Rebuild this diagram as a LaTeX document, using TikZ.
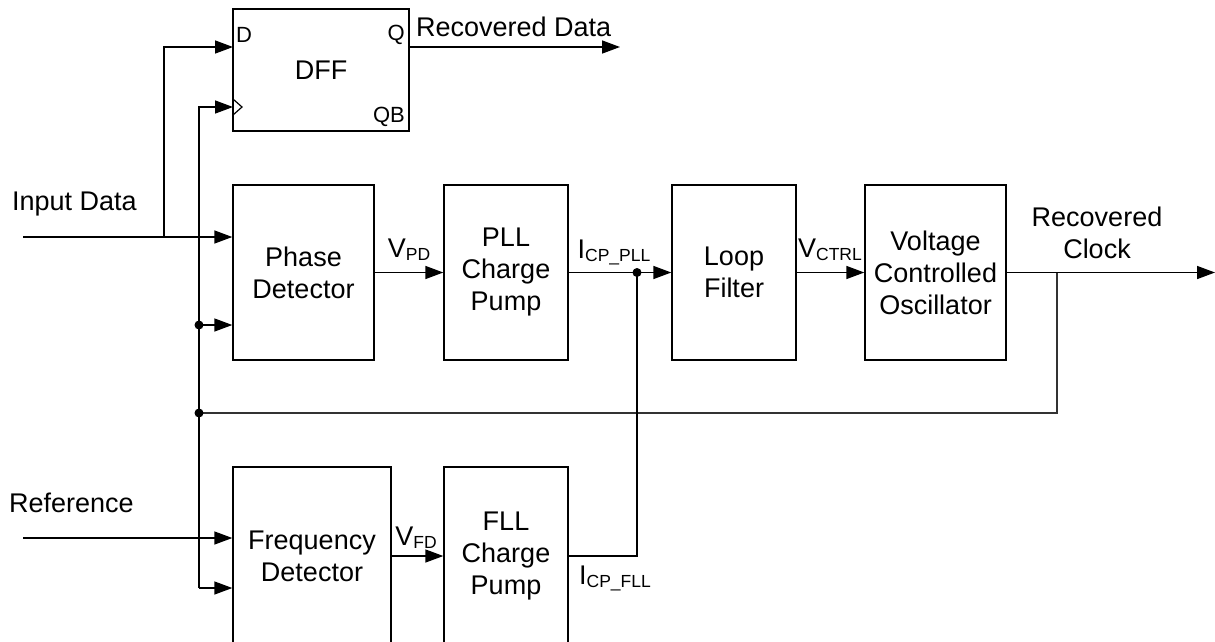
\documentclass[tikz,border=0pt]{standalone}
\usepackage{fontspec}
\setmainfont{Liberation Sans}
\usetikzlibrary{arrows.meta}
\newcommand{\sbs}[1]{\raisebox{-3pt}{\fontsize{17.5}{17.5}\selectfont #1}}
\begin{document}
\begin{tikzpicture}[x=1pt,y=-1pt,
  blk/.style={draw, line width=1.4pt, align=center, inner sep=0pt, font=\fontsize{27}{32}\selectfont},
  wire/.style={line width=1.5pt},
  arr/.style={wire, -{Triangle[length=18pt,width=13pt]}},
  lbl/.style={inner sep=0pt, font=\fontsize{27}{32}\selectfont, align=center},
  pin/.style={inner sep=0pt, font=\fontsize{22}{24}\selectfont},
  dot/.style={circle, fill, inner sep=0pt, minimum size=9pt}
]
\clip (0,0) rectangle (1215,641);
\fill[white] (0,0) rectangle (1215,641);

% blocks
\node[blk, minimum width=176pt, minimum height=122pt] (DFF) at (321,70) {DFF};
\node[blk, minimum width=141pt, minimum height=175pt] (PD) at (303.5,272.5) {Phase\\Detector};
\node[blk, minimum width=124pt, minimum height=175pt] (PLL) at (506,272.5) {PLL\\Charge\\Pump};
\node[blk, minimum width=124pt, minimum height=175pt] (LF) at (734,272.5) {Loop\\Filter};
\node[blk, minimum width=141pt, minimum height=175pt] (VCO) at (935.5,272.5) {Voltage\\Controlled\\Oscillator};
\node[blk, minimum width=158pt, minimum height=178pt] (FD) at (312,556) {Frequency\\Detector};
\node[blk, minimum width=124pt, minimum height=178pt] (FLL) at (506,556) {FLL\\Charge\\Pump};

% DFF pins
\node[pin, anchor=west] (pD) at (236,35) {D};
\node[pin, anchor=east] (pQ) at (405,35) {Q};
\node[pin, anchor=east] (pQB) at (405,117) {QB};
\coordinate (dffD) at (233,47);
\coordinate (dffC) at (233,107);
\coordinate (dffQ) at (409,47);
\draw[wire, line width=1.2pt] (dffC) ++(0,-8) -- ++(9,8) -- ++(-9,8);

% coordinates
\coordinate (inD) at (23,237);
\coordinate (jD) at (164,237);
\coordinate (inR) at (23,538);
\coordinate (kb) at (199,588);
\coordinate (k1) at (199,325);
\coordinate (k2) at (199,413);
\coordinate (fb) at (1057,272.5);
\coordinate (out) at (1215,272.5);
\coordinate (jp) at (637,272.5);
\coordinate (rdo) at (620,47);

% wires
\draw[arr] (inD) -- (inD -| PD.west);
\draw[arr] (jD) |- (dffD);
\draw[arr] (kb) |- (dffC);
\draw[arr] (kb) -- (kb -| FD.west);
\draw[arr] (k1) -- (k1 -| PD.west);
\draw[wire, line width=1.9pt, black!80] (k2) -| (fb);
\draw[arr] (VCO.east) -- (out);
\draw[arr] (PD.east) -- (PLL.west);
\draw[arr] (PLL.east) -- (LF.west);
\draw[arr] (LF.east) -- (VCO.west);
\draw[arr] (FD.east) -- (FLL.west);
\draw[wire] (FLL.east) -| (jp);
\draw[arr] (inR) -- (inR -| FD.west);
\draw[arr] (dffQ) -- (rdo);

\node[dot] (d1) at (k1) {};
\node[dot] (d2) at (k2) {};
\node[dot] (d3) at (jp) {};

% labels
\node[lbl, anchor=west] (tIn) at (12,204) {Input Data};
\node[lbl, anchor=west] (tRef) at (9,503) {Reference};
\node[lbl, anchor=west] (tRD) at (416,27) {Recovered Data};
\node[lbl] (tRC) at (1097,233) {Recovered\\Clock};
\node[lbl] (tVPD) at (409,250) {V\sbs{PD}};
\node[lbl] (tIPLL) at (614,252) {I\sbs{CP\_PLL}};
\node[lbl] (tVC) at (830,250) {V\sbs{CTRL}};
\node[lbl] (tVFD) at (416,538) {V\sbs{FD}};
\node[lbl] (tIFLL) at (615,578) {I\sbs{CP\_FLL}};
\end{tikzpicture}
\end{document}
